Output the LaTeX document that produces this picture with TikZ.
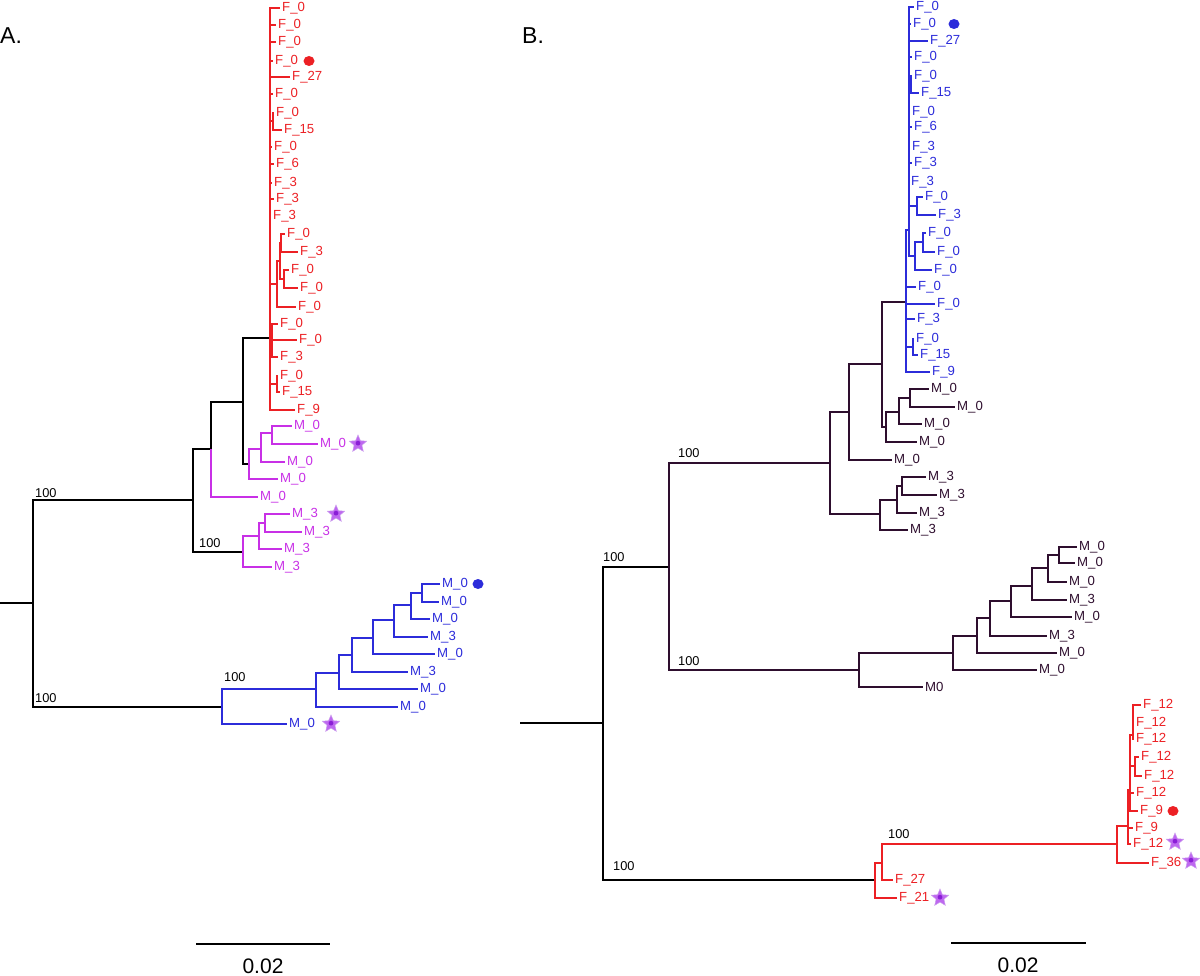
\documentclass[tikz,border=0pt]{standalone}
\usepackage{fontspec}
\setmainfont{Liberation Sans}
\usetikzlibrary{shapes.geometric}
\definecolor{treered}{RGB}{236,32,36}
\definecolor{treemag}{RGB}{200,48,230}
\definecolor{treeblue}{RGB}{44,44,218}
\definecolor{treeplum}{RGB}{46,14,46}
\definecolor{starouter}{RGB}{190,104,240}
\definecolor{starinner}{RGB}{138,30,214}

\begin{document}
\begin{tikzpicture}[x=1pt,y=-1pt,
  br/.style={line width=1.5pt},
  leaf/.style={anchor=west,inner sep=2pt,font=\fontsize{13.2}{15}\selectfont},
  boot/.style={anchor=base west,inner sep=0pt,font=\fontsize{12.8}{14}\selectfont},
  panel/.style={anchor=base west,inner sep=0pt,font=\fontsize{23}{26}\selectfont},
  scalelab/.style={anchor=base,inner sep=0pt,font=\fontsize{21}{24}\selectfont},
  mstar/.style={star,star points=5,star point ratio=2.2,minimum size=18pt,inner sep=0pt,
    fill=starouter,draw=starinner!45,line width=0.5pt,
    path picture={\fill[starinner] (path picture bounding box.center) circle (2.4pt);}},
  mdot/.style={ellipse,minimum width=11pt,minimum height=10pt,inner sep=0pt}]
  \useasboundingbox (0,0) rectangle (1200,976);

  % ---------- panel A ----------
  \node[panel] (tA) at (0,44) {A.};
  \coordinate (rA0) at (0,603);
  \coordinate (rA) at (33,603);
  \coordinate (nA1) at (193,500);
  \coordinate (nA2) at (211,449);
  \coordinate (nA3) at (243,402);
  \coordinate (nAr) at (270,338);
  \coordinate (nAm) at (249,464);
  \coordinate (nAm1) at (261,449);
  \coordinate (nAm2) at (272,433);
  \coordinate (nAk) at (243,552);
  \coordinate (nAk1) at (259,536);
  \coordinate (nAk2) at (265,523);
  \coordinate (nAr1) at (273,121);
  \coordinate (nAr2) at (277,284);
  \coordinate (nAr3) at (280,261);
  \coordinate (nAr4) at (281,243);
  \coordinate (nAr5) at (284,279);
  \coordinate (nAr6) at (272,340);
  \coordinate (nAr7) at (277,384);
  \coordinate (nAb) at (222,707);
  \coordinate (nAb1) at (316,689);
  \coordinate (nAb2) at (339,673);
  \coordinate (nAb3) at (352,655);
  \coordinate (nAb4) at (373,638);
  \coordinate (nAb5) at (394,620);
  \coordinate (nAb6) at (411,605);
  \coordinate (nAb7) at (422,593);

  \draw[br] (rA0) -- (rA) (rA) |- (nA1) (rA) |- (nAb) (nA1) |- (nA2) (nA1) |- (nAk)
    (nA2) |- (nA3) (nA3) |- (nAr) (nA3) |- (nAm);
  \draw[br,treemag] (nAm) |- (nAm1) (nAm1) |- (nAm2) (nAk) |- (nAk1) (nAk1) |- (nAk2);
  \draw[br,treered] (nAr) |- (nAr1) (nAr) |- (nAr2) (nAr2) |- (nAr3) (nAr3) |- (nAr4)
    (nAr3) |- (nAr5) (nAr) |- (nAr6) (nAr) |- (nAr7);
  \draw[br,treeblue] (nAb) |- (nAb1) (nAb1) |- (nAb2) (nAb2) |- (nAb3) (nAb3) |- (nAb4)
    (nAb4) |- (nAb5) (nAb5) |- (nAb6) (nAb6) |- (nAb7);

  \foreach \lf/\pa/\yy/\xx/\lab in {a1/nAr/8/280/F\_0, a2/nAr/25/276/F\_0, a3/nAr/42/276/F\_0,
      a4/nAr/61/273/F\_0, a5/nAr/77/290/F\_27, a6/nAr/94/273/F\_0, a7/nAr1/113/274/F\_0,
      a8/nAr1/130/282/F\_15, a9/nAr/147/272/F\_0, a10/nAr/164/274/F\_6, a11/nAr/183/272/F\_3,
      a12/nAr/199/274/F\_3, a13/nAr/216/271/F\_3, a14/nAr4/234/285/F\_0, a15/nAr4/252/298/F\_3,
      a16/nAr5/270/289/F\_0, a17/nAr5/288/298/F\_0, a18/nAr2/307/296/F\_0, a19/nAr6/324/278/F\_0,
      a20/nAr6/340/297/F\_0, a21/nAr6/357/278/F\_3, a22/nAr7/376/278/F\_0, a23/nAr7/392/280/F\_15,
      a24/nAr/410/295/F\_9}{
    \node[leaf,text=treered] (\lf) at (\xx,\yy) {\lab};
    \draw[br,treered] (\pa) |- (\lf.west);
  }
  \foreach \lf/\pa/\yy/\xx/\lab in {m1/nA2/497/258/M\_0, m2/nAm/479/278/M\_0, m3/nAm1/462/285/M\_0,
      m4/nAm2/426/292/M\_0, m5/nAm2/444/318/M\_0, m6/nAk/567/272/M\_3, m7/nAk1/549/282/M\_3,
      m8/nAk2/514/290/M\_3, m9/nAk2/532/302/M\_3}{
    \node[leaf,text=treemag] (\lf) at (\xx,\yy) {\lab};
    \draw[br,treemag] (\pa) |- (\lf.west);
  }
  \foreach \lf/\pa/\yy/\xx/\lab in {b1/nAb/724/287/M\_0, b2/nAb1/707/398/M\_0, b3/nAb2/689/418/M\_0,
      b4/nAb3/672/408/M\_3, b5/nAb4/654/435/M\_0, b6/nAb5/637/428/M\_3, b7/nAb6/619/430/M\_0,
      b8/nAb7/584/440/M\_0, b9/nAb7/602/439/M\_0}{
    \node[leaf,text=treeblue] (\lf) at (\xx,\yy) {\lab};
    \draw[br,treeblue] (\pa) |- (\lf.west);
  }
  \node[mdot,fill=treered] (dA1) at (309,61) {};
  \node[mdot,fill=treeblue] (dA2) at (478,584) {};
  \node[mstar] (sA1) at (358,444) {};
  \node[mstar] (sA2) at (336,514) {};
  \node[mstar] (sA3) at (331,724) {};

  \node[boot] (bA1) at (35,497) {100};
  \node[boot] (bA2) at (35,702) {100};
  \node[boot] (bA3) at (199,547) {100};
  \node[boot] (bA4) at (224,681) {100};

  \coordinate (kA1) at (196,944);
  \coordinate (kA2) at (330,944);
  \draw[br] (kA1) -- (kA2);
  \node[scalelab] (kA) at (263,973) {0.02};

  % ---------- panel B ----------
  \node[panel] (tB) at (522,44) {B.};
  \coordinate (rB0) at (520,723);
  \coordinate (rB) at (603,723);
  \coordinate (nB1) at (669,567);
  \coordinate (nB2) at (830,463);
  \coordinate (nB3) at (859,670);
  \coordinate (nB4) at (849,412);
  \coordinate (nB5) at (880,514);
  \coordinate (nB6) at (882,364);
  \coordinate (nB7) at (886,427);
  \coordinate (nB8) at (899,412);
  \coordinate (nB9) at (910,398);
  \coordinate (nB10) at (897,500);
  \coordinate (nB11) at (902,486);
  \coordinate (nB12) at (953,653);
  \coordinate (nB13) at (977,636);
  \coordinate (nB14) at (990,618);
  \coordinate (nB15) at (1011,601);
  \coordinate (nB16) at (1032,586);
  \coordinate (nB17) at (1048,568);
  \coordinate (nB18) at (1059,555);
  \coordinate (nBb) at (906,302);
  \coordinate (nBbU) at (909,230);
  \coordinate (nBb1) at (911,84);
  \coordinate (nBb2) at (917,206);
  \coordinate (nBb3) at (915,256);
  \coordinate (nBb4) at (923,242);
  \coordinate (nBb5) at (913,347);
  \coordinate (nBr) at (875,880);
  \coordinate (nBr1) at (882,863);
  \coordinate (nBr2) at (1117,844);
  \coordinate (nBr3) at (1128,826);
  \coordinate (nBr4) at (1130,790);
  \coordinate (nBr5) at (1133,735);
  \coordinate (nBr6) at (1135,766);

  \draw[br] (rB0) -- (rB) (rB) |- (nB1) (rB) |- (nBr);
  \draw[br,treeplum] (nB1) |- (nB2) (nB1) |- (nB3) (nB2) |- (nB4) (nB2) |- (nB5)
    (nB4) |- (nB6) (nB6) |- (nBb) (nB6) |- (nB7) (nB7) |- (nB8) (nB8) |- (nB9)
    (nB5) |- (nB10) (nB10) |- (nB11) (nB3) |- (nB12) (nB12) |- (nB13) (nB13) |- (nB14)
    (nB14) |- (nB15) (nB15) |- (nB16) (nB16) |- (nB17) (nB17) |- (nB18);
  \draw[br,treeblue] (nBb) |- (nBbU) (nBbU) |- (nBb1) (nBbU) |- (nBb2) (nBbU) |- (nBb3)
    (nBb3) |- (nBb4) (nBb) |- (nBb5);
  \draw[br,treered] (nBr) |- (nBr1) (nBr1) |- (nBr2) (nBr2) |- (nBr3) (nBr3) |- (nBr4)
    (nBr4) |- (nBr5) (nBr4) |- (nBr6);

  \foreach \lf/\pa/\yy/\xx/\lab in {c1/nB4/460/892/M\_0, c2/nB7/442/917/M\_0, c3/nB8/424/922/M\_0,
      c4/nB9/389/929/M\_0, c5/nB9/407/955/M\_0, c6/nB5/530/908/M\_3, c7/nB10/513/917/M\_3,
      c8/nB11/477/926/M\_3, c9/nB11/495/937/M\_3, c10/nB3/687/923/M0, c11/nB12/670/1037/M\_0,
      c12/nB13/653/1057/M\_0, c13/nB14/636/1047/M\_3, c14/nB15/617/1072/M\_0, c15/nB16/600/1067/M\_3,
      c16/nB17/582/1067/M\_0, c17/nB18/547/1077/M\_0, c18/nB18/563/1075/M\_0}{
    \node[leaf,text=treeplum] (\lf) at (\xx,\yy) {\lab};
    \draw[br,treeplum] (\pa) |- (\lf.west);
  }
  \foreach \lf/\pa/\yy/\xx/\lab in {d1/nBbU/7/914/F\_0, d2/nBbU/24/911/F\_0, d3/nBbU/41/928/F\_27,
      d4/nBbU/57/912/F\_0, d5/nBb1/76/912/F\_0, d6/nBb1/93/919/F\_15, d7/nBbU/112/910/F\_0,
      d8/nBbU/127/912/F\_6, d9/nBbU/147/910/F\_3, d10/nBbU/163/912/F\_3, d11/nBbU/182/909/F\_3,
      d12/nBb2/197/923/F\_0, d13/nBb2/215/936/F\_3, d14/nBb4/233/926/F\_0, d15/nBb4/252/935/F\_0,
      d16/nBb3/270/932/F\_0, d17/nBb/287/916/F\_0, d18/nBb/304/935/F\_0, d19/nBb/319/915/F\_3,
      d20/nBb5/339/914/F\_0, d21/nBb5/355/918/F\_15, d22/nBb/372/930/F\_9}{
    \node[leaf,text=treeblue] (\lf) at (\xx,\yy) {\lab};
    \draw[br,treeblue] (\pa) |- (\lf.west);
  }
  \foreach \lf/\pa/\yy/\xx/\lab in {e1/nBr/898/897/F\_21, e2/nBr1/880/893/F\_27, e3/nBr2/863/1149/F\_36,
      e4/nBr3/844/1131/F\_12, e5/nBr3/828/1133/F\_9, e6/nBr4/811/1138/F\_9, e7/nBr4/793/1134/F\_12,
      e8/nBr5/705/1141/F\_12, e9/nBr5/723/1134/F\_12, e10/nBr5/739/1134/F\_12,
      e11/nBr6/757/1139/F\_12, e12/nBr6/776/1142/F\_12}{
    \node[leaf,text=treered] (\lf) at (\xx,\yy) {\lab};
    \draw[br,treered] (\pa) |- (\lf.west);
  }
  \node[mdot,fill=treeblue] (dB1) at (954,24) {};
  \node[mdot,fill=treered] (dB2) at (1173,811) {};
  \node[mstar] (sB1) at (940,898) {};
  \node[mstar] (sB2) at (1191,861) {};
  \node[mstar] (sB3) at (1175,842) {};

  \node[boot] (bB1) at (603,561) {100};
  \node[boot] (bB2) at (678,457) {100};
  \node[boot] (bB3) at (678,665) {100};
  \node[boot] (bB4) at (613,870) {100};
  \node[boot] (bB5) at (888,838) {100};

  \coordinate (kB1) at (951,943);
  \coordinate (kB2) at (1086,943);
  \draw[br] (kB1) -- (kB2);
  \node[scalelab] (kB) at (1018,972) {0.02};
\end{tikzpicture}
\end{document}
